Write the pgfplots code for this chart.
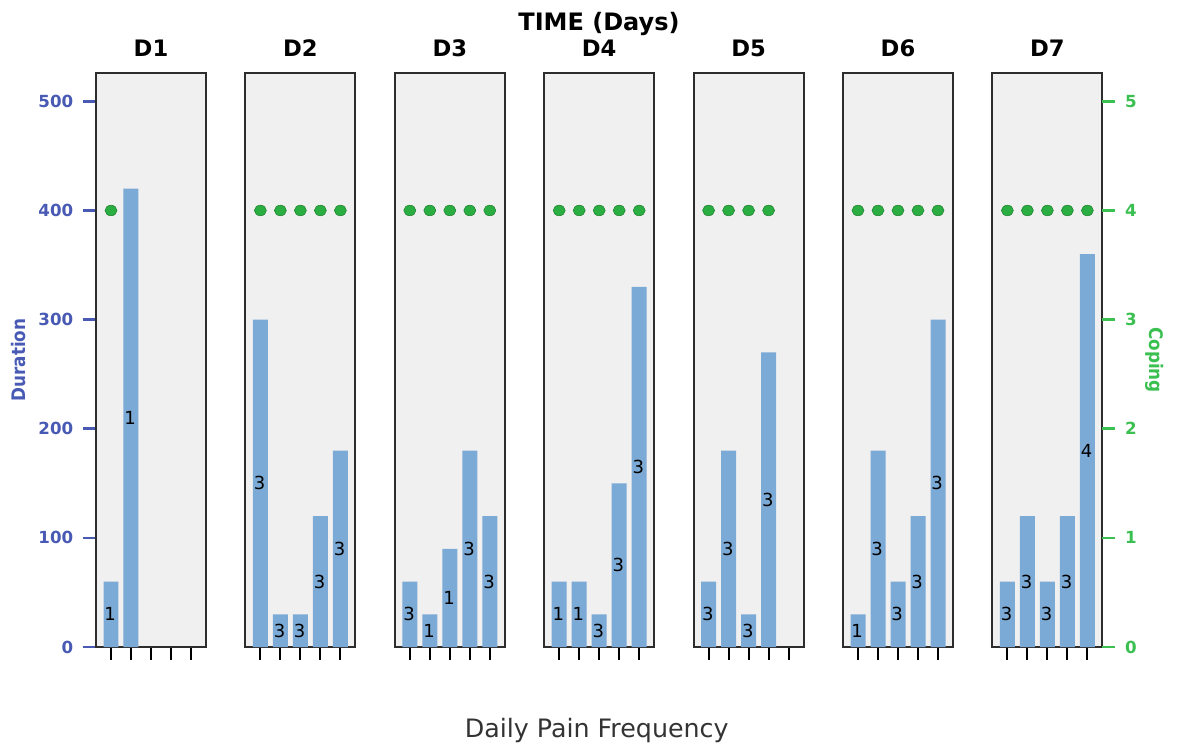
\documentclass[border=0pt]{standalone}
\usepackage{pgfplots}
\pgfplotsset{compat=1.18}
\usepackage{pgfplotstable}
\usepackage{fontspec}
\setmainfont{DejaVu Sans}
\newfontfamily\condfont{DejaVu Sans Condensed}

\definecolor{barblue}{RGB}{124,170,214}
\definecolor{panelbg}{RGB}{240,240,240}
\definecolor{durblue}{RGB}{72,90,180}
\definecolor{copgreen}{RGB}{58,192,80}
\definecolor{dotgreen}{RGB}{42,174,66}
\definecolor{dotedge}{RGB}{30,128,46}
\definecolor{framegray}{RGB}{45,45,45}

% x = pain-frequency slot, dur = duration, f = frequency count, cop = coping
\pgfplotstableread{
x dur f cop
0 60  1 4
1 420 1 nan
}\dayA
\pgfplotstableread{
x dur f cop
0 300 3 4
1 30  3 4
2 30  3 4
3 120 3 4
4 180 3 4
}\dayB
\pgfplotstableread{
x dur f cop
0 60  3 4
1 30  1 4
2 90  1 4
3 180 3 4
4 120 3 4
}\dayC
\pgfplotstableread{
x dur f cop
0 60  1 4
1 60  1 4
2 30  3 4
3 150 3 4
4 330 3 4
}\dayD
\pgfplotstableread{
x dur f cop
0 60  3 4
1 180 3 4
2 30  3 4
3 270 3 4
}\dayE
\pgfplotstableread{
x dur f cop
0 30  1 4
1 180 3 4
2 60  3 4
3 120 3 4
4 300 3 4
}\dayF
\pgfplotstableread{
x dur f cop
0 60  3 4
1 120 3 4
2 60  3 4
3 120 3 4
4 360 4 4
}\dayG

\pgfplotsset{
  /pgf/number format/assume math mode=true,
  panelbase/.style={
    at={(#1*112.05pt,0pt)}, anchor=south west,
    scale only axis, width=82.5pt, height=430.5pt,
    xmin=-0.75, xmax=4.75,
  },
  panel/.style={
    panelbase=#1,
    ymin=0, ymax=526,
    axis background/.style={fill=panelbg},
    axis line style={draw=framegray, line width=1.6pt},
    xtick={0,1,2,3,4}, xticklabels={}, xtick pos=bottom,
    tick align=outside, major tick length=9.5pt,
    xtick style={black, line width=1.5pt},
    ytick=\empty,
    title style={font=\bfseries\fontsize{17}{17}\selectfont,
      anchor=base, at={(0.5,1)}, yshift=6pt},
  },
  coping/.style={
    panelbase=#1,
    ymin=0, ymax=5.26,
    hide axis,
  },
  bars/.style={ybar, bar width=0.75, fill=barblue, draw=none},
  counts/.style={draw=none, mark=none,
    nodes near coords, point meta=explicit symbolic,
    nodes near coords style={anchor=center, text=black, xshift=-0.6pt,
      font=\fontsize{13.5}{13.5}\selectfont, inner sep=0pt}},
  dots/.style={only marks, mark=*, mark size=4.5pt,
    mark options={fill=dotgreen, draw=dotedge, line width=0.4pt, yscale=0.88}},
}

\newcommand{\daypanel}[3]{%
  \begin{axis}[panel=#1, title={#2}]
    \addplot[bars] table[x=x, y=dur] {#3};
    \addplot[counts] table[x=x, y expr=\thisrow{dur}/2, meta=f] {#3};
  \end{axis}
  \begin{axis}[coping=#1]
    \addplot[dots] table[x=x, y=cop] {#3};
  \end{axis}}

\begin{document}
\begin{tikzpicture}
  % first day carries the Duration scale
  \begin{axis}[panel=0, title={D1},
      ytick={0,100,...,500}, ytick pos=left,
      ytick style={durblue, line width=2pt},
      yticklabel style={text=durblue, xshift=-4pt,
        font=\bfseries\fontsize{12.5}{12.5}\selectfont}]
    \addplot[bars] table[x=x, y=dur] {\dayA};
    \addplot[counts] table[x=x, y expr=\thisrow{dur}/2, meta=f] {\dayA};
  \end{axis}
  \begin{axis}[coping=0]
    \addplot[dots] table[x=x, y=cop] {\dayA};
  \end{axis}

  \daypanel{1}{D2}{\dayB}
  \daypanel{2}{D3}{\dayC}
  \daypanel{3}{D4}{\dayD}
  \daypanel{4}{D5}{\dayE}
  \daypanel{5}{D6}{\dayF}

  \begin{axis}[panel=6, title={D7}]
    \addplot[bars] table[x=x, y=dur] {\dayG};
    \addplot[counts] table[x=x, y expr=\thisrow{dur}/2, meta=f] {\dayG};
  \end{axis}
  % last day carries the Coping scale on the right
  \begin{axis}[panelbase=6, ymin=0, ymax=5.26,
      axis line style={draw=none},
      xtick=\empty, ytick={0,1,...,5}, ytick pos=right,
      tick align=outside, major tick length=9.5pt,
      ytick style={copgreen, line width=2pt},
      yticklabel style={text=copgreen, xshift=4pt,
        font=\bfseries\fontsize{12.5}{12.5}\selectfont}]
    \addplot[dots] table[x=x, y=cop] {\dayG};
  \end{axis}

  \node[anchor=base, font=\bfseries\fontsize{18}{18}\selectfont]
    at (377.25pt,462pt) {TIME (Days)};
  \node[anchor=base, text=black!80, font=\fontsize{19}{19}\selectfont]
    at (375.5pt,-67.5pt) {Daily Pain Frequency};
  \node[anchor=base, rotate=90, text=durblue, font=\condfont\bfseries\fontsize{14}{14}\selectfont]
    at (-52.5pt,215.25pt) {Duration};
  \node[anchor=base, rotate=-90, text=copgreen, font=\condfont\bfseries\fontsize{14}{14}\selectfont]
    at (789.75pt,215.25pt) {Coping};

  \pgfresetboundingbox
  \path (-72pt,-71.25pt) rectangle (810.75pt,485.25pt);
\end{tikzpicture}
\end{document}
